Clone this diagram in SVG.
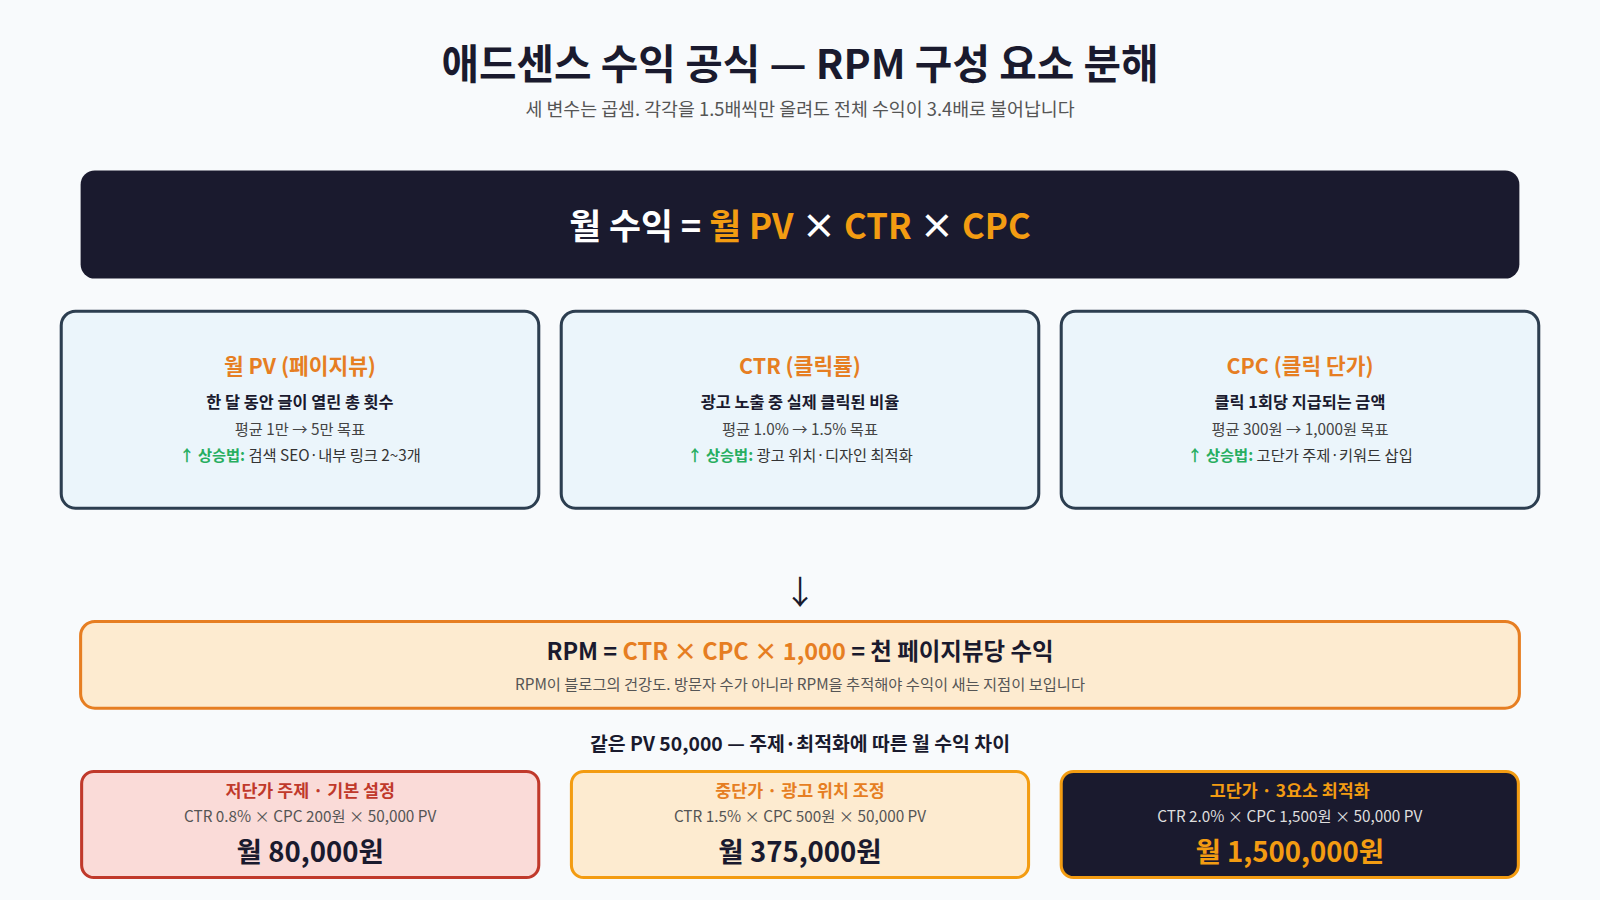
<svg xmlns="http://www.w3.org/2000/svg" width="1600" height="900" viewBox="0 0 1600 900">
<style>
text{font-family:"Noto Sans CJK KR","Noto Sans",sans-serif;text-anchor:middle}
.card{fill:#ebf5fb;stroke:#2c3e50;stroke-width:3}
.ct{font-size:21px;font-weight:700;fill:#e67e22}
.c1{font-size:16px;font-weight:700;fill:#1a1a2e}
.c2{font-size:15px;fill:#444}
.c3{font-size:15px;fill:#333}
.g{fill:#27ae60;font-weight:700}
.o{fill:#f39c12}
.bt{font-size:17px;font-weight:700}
.bs{font-size:15px;fill:#555}
.bv{font-size:27px;font-weight:700;fill:#1a1a2e}
</style>
<rect width="1600" height="900" fill="#f8fafc"/>
<g transform="scale(1.0204)">
<g id="title">
<text x="784" y="77" font-size="40" font-weight="700" fill="#1a1a2e">애드센스 수익 공식 — RPM 구성 요소 분해</text>
<text x="784" y="114" font-size="18" fill="#555">세 변수는 곱셈. 각각을 1.5배씩만 올려도 전체 수익이 3.4배로 불어납니다</text>
</g>
<g id="formula">
<rect x="79" y="167" width="1410" height="106" rx="14" fill="#1a1a2e"/>
<text x="784" y="234" font-size="34" font-weight="700" fill="#fff">월 수익 = <tspan class="o">월 PV</tspan> × <tspan class="o">CTR</tspan> × <tspan class="o">CPC</tspan></text>
</g>
<g id="card-pv">
<rect class="card" x="60" y="305" width="468" height="193" rx="14"/>
<text class="ct" x="294" y="367">월 PV (페이지뷰)</text>
<text class="c1" x="294" y="400">한 달 동안 글이 열린 총 횟수</text>
<text class="c2" x="294" y="426">평균 1만 → 5만 목표</text>
<text class="c3" x="294" y="452"><tspan class="g">↑ 상승법:</tspan> 검색 SEO·내부 링크 2~3개</text>
</g>
<g id="card-ctr">
<rect class="card" x="550" y="305" width="468" height="193" rx="14"/>
<text class="ct" x="784" y="367">CTR (클릭률)</text>
<text class="c1" x="784" y="400">광고 노출 중 실제 클릭된 비율</text>
<text class="c2" x="784" y="426">평균 1.0% → 1.5% 목표</text>
<text class="c3" x="784" y="452"><tspan class="g">↑ 상승법:</tspan> 광고 위치·디자인 최적화</text>
</g>
<g id="card-cpc">
<rect class="card" x="1040" y="305" width="468" height="193" rx="14"/>
<text class="ct" x="1274" y="367">CPC (클릭 단가)</text>
<text class="c1" x="1274" y="400">클릭 1회당 지급되는 금액</text>
<text class="c2" x="1274" y="426">평균 300원 → 1,000원 목표</text>
<text class="c3" x="1274" y="452"><tspan class="g">↑ 상승법:</tspan> 고단가 주제·키워드 삽입</text>
</g>
<g id="connectors">
<text x="784" y="592" font-size="32" fill="#1a1a2e">↓</text>
</g>
<g id="rpm">
<rect x="79" y="609" width="1410" height="85" rx="14" fill="#fdebd0" stroke="#e67e22" stroke-width="3"/>
<text x="784" y="647" font-size="23" font-weight="700" fill="#1a1a2e">RPM = <tspan fill="#e67e22">CTR × CPC × 1,000</tspan> = 천 페이지뷰당 수익</text>
<text x="784" y="676" font-size="15" fill="#555">RPM이 블로그의 건강도. 방문자 수가 아니라 RPM을 추적해야 수익이 새는 지점이 보입니다</text>
</g>
<text x="784" y="736" font-size="19" font-weight="700" fill="#1a1a2e">같은 PV 50,000 — 주제·최적화에 따른 월 수익 차이</text>
<g id="low">
<rect x="80" y="756" width="448" height="104" rx="12" fill="#fadbd8" stroke="#c0392b" stroke-width="3"/>
<text class="bt" x="304" y="781" fill="#c0392b">저단가 주제 · 기본 설정</text>
<text class="bs" x="304" y="806">CTR 0.8% × CPC 200원 × 50,000 PV</text>
<text class="bv" x="304" y="845">월 80,000원</text>
</g>
<g id="mid">
<rect x="560" y="756" width="448" height="104" rx="12" fill="#fdebd0" stroke="#f39c12" stroke-width="3"/>
<text class="bt" x="784" y="781" fill="#e67e22">중단가 · 광고 위치 조정</text>
<text class="bs" x="784" y="806">CTR 1.5% × CPC 500원 × 50,000 PV</text>
<text class="bv" x="784" y="845">월 375,000원</text>
</g>
<g id="high">
<rect x="1040" y="756" width="448" height="104" rx="12" fill="#1a1a2e" stroke="#f39c12" stroke-width="3"/>
<text class="bt" x="1264" y="781" fill="#f39c12">고단가 · 3요소 최적화</text>
<text class="bs" x="1264" y="806" style="fill:#ddd">CTR 2.0% × CPC 1,500원 × 50,000 PV</text>
<text class="bv" x="1264" y="845" style="fill:#f39c12">월 1,500,000원</text>
</g>
</g>
</svg>
